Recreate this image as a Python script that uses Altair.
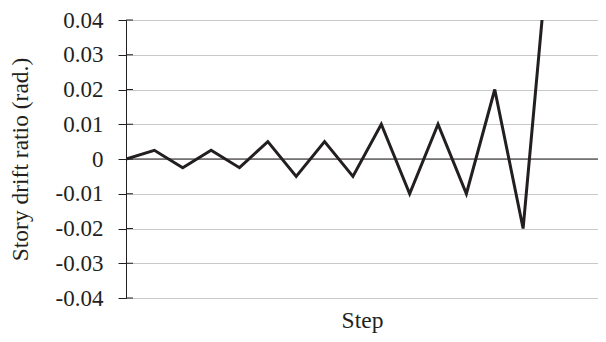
import altair as alt
import pandas as pd

steps = list(range(16))
drift = [0, 0.0025, -0.0025, 0.0025, -0.0025, 0.005, -0.005, 0.005, -0.005,
         0.01, -0.01, 0.01, -0.01, 0.02, -0.02, 0.07]
y_ticks = [-0.04, -0.03, -0.02, -0.01, 0, 0.01, 0.02, 0.03, 0.04]

df = pd.DataFrame({"step": steps, "drift": drift})
ticks_df = pd.DataFrame({"v": y_ticks})
zero_df = pd.DataFrame({"v": [0]})

FONT = "Liberation Serif"
INK = "#231f20"
xscale = alt.Scale(domain=[0, 16.64], nice=False, zero=False)
yscale = alt.Scale(domain=[-0.04, 0.04], nice=False)

label_expr = ("datum.value == 0 ? '0' : (datum.value < 0 ? '-' + format(-datum.value, '.2f') "
              ": format(datum.value, '.2f'))")

y_axis = alt.Axis(title="Story drift ratio (rad.)", values=y_ticks, labelExpr=label_expr,
                  labelOverlap=False, labelFlush=False,
                  grid=True, gridColor="#c8c8c8", gridWidth=1,
                  domainColor=INK, tickColor=INK, tickSize=8,
                  labelFont=FONT, labelFontSize=23, labelColor=INK,
                  labelPadding=15,
                  titleFont=FONT, titleFontSize=23.5, titleFontWeight="normal",
                  titleColor=INK, titlePadding=23)

line = alt.Chart(df).mark_line(color=INK, strokeWidth=3, clip=True,
                               strokeJoin="miter").encode(
    x=alt.X("step:Q", scale=xscale,
            axis=alt.Axis(title="Step", labels=False, ticks=False, domain=False, grid=False,
                          titleFont=FONT, titleFontSize=23.5, titleFontWeight="normal",
                          titleColor=INK, titlePadding=10)),
    y=alt.Y("drift:Q", scale=yscale, axis=y_axis),
)

zero = alt.Chart(zero_df).mark_rule(color=INK, strokeWidth=1).encode(
    y=alt.Y("v:Q", scale=yscale, axis=y_axis)
)

inner_ticks = alt.Chart(ticks_df).mark_rule(color=INK, strokeWidth=1).encode(
    y=alt.Y("v:Q", scale=yscale, axis=y_axis),
    x=alt.value(0),
    x2=alt.value(7),
)

chart = alt.layer(zero, inner_ticks, line).properties(
    width=472, height=278,
    autosize=alt.AutoSizeParams(type="none"),
    padding={"left": 118, "top": 12, "right": 0, "bottom": 36},
).configure_view(stroke=None).configure(background="white")

chart.save("out.html", embed_options={"renderer": "svg", "actions": False})
